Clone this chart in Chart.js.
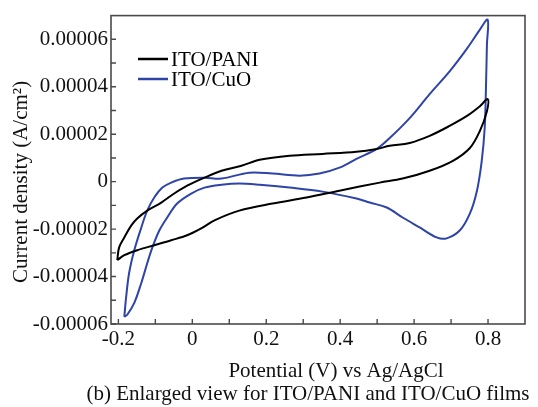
<!DOCTYPE html>
<html>
<head>
<meta charset="utf-8">
<script src="https://cdn.jsdelivr.net/npm/chart.js@4"></script>
<style>
 body { margin:0; background:#fff; }
</style>
</head>
<body>
<canvas id="myChart" width="538" height="407"></canvas>
<script>
var paniV = [-0.203,-0.198,-0.184,-0.165,-0.149,-0.122,-0.084,-0.049,-0.014,0.033,0.079,0.133,0.182,0.263,0.352,0.444,0.499,0.534,0.588,0.642,0.696,0.743,0.778,0.799,
             0.797,0.778,0.751,0.705,0.642,0.569,0.507,0.398,0.309,0.217,0.127,0.060,0.024,-0.014,-0.057,-0.103,-0.149,-0.184,-0.203];
var paniJ = [-3.31e-5,-2.77e-5,-2.35e-5,-1.84e-5,-1.55e-5,-1.22e-5,-0.88e-5,-0.50e-5,-0.17e-5,0.17e-5,0.46e-5,0.67e-5,0.92e-5,1.09e-5,1.17e-5,1.26e-5,1.38e-5,1.51e-5,1.63e-5,1.93e-5,2.35e-5,2.77e-5,3.18e-5,3.48e-5,
             2.97e-5,2.14e-5,1.42e-5,0.88e-5,0.46e-5,0.13e-5,-0.04e-5,-0.38e-5,-0.67e-5,-0.92e-5,-1.22e-5,-1.63e-5,-1.97e-5,-2.26e-5,-2.47e-5,-2.68e-5,-2.89e-5,-3.10e-5,-3.31e-5];

var cuoV = [-0.184,-0.179,-0.171,-0.157,-0.138,-0.122,-0.103,-0.081,-0.057,-0.022,0.033,0.079,0.154,0.217,0.290,0.344,0.398,0.444,0.499,0.534,0.588,0.642,0.696,0.743,0.778,0.799,
            0.797,0.794,0.791,0.783,0.770,0.751,0.724,0.688,0.661,0.615,0.569,0.526,0.480,0.444,0.352,0.263,0.182,0.127,0.079,0.033,-0.003,-0.041,-0.068,-0.089,-0.108,-0.122,-0.138,-0.157,-0.176,-0.184];
var cuoJ = [-5.70e-5,-4.86e-5,-3.85e-5,-2.89e-5,-1.93e-5,-1.22e-5,-0.67e-5,-0.25e-5,-0.04e-5,0.13e-5,0.17e-5,0.13e-5,0.38e-5,0.34e-5,0.25e-5,0.34e-5,0.59e-5,0.96e-5,1.38e-5,1.84e-5,2.68e-5,3.69e-5,4.65e-5,5.61e-5,6.41e-5,6.83e-5,
            5.78e-5,3.69e-5,2.26e-5,0.88e-5,-0.38e-5,-1.34e-5,-2.05e-5,-2.39e-5,-2.35e-5,-1.93e-5,-1.51e-5,-1.09e-5,-0.88e-5,-0.71e-5,-0.42e-5,-0.25e-5,-0.13e-5,-0.08e-5,-0.13e-5,-0.25e-5,-0.50e-5,-0.92e-5,-1.51e-5,-2.05e-5,-2.77e-5,-3.44e-5,-4.27e-5,-5.11e-5,-5.61e-5,-5.70e-5];

var seriesNames = ["ITO/PANI", "ITO/CuO"];
var xTicks = [-0.2, 0, 0.2, 0.4, 0.6, 0.8];
var xMinor = [-0.1, 0.1, 0.3, 0.5, 0.7];
var yTicks = [-0.00006, -0.00004, -0.00002, 0, 0.00002, 0.00004, 0.00006];
var yMinor = [-0.00005, -0.00003, -0.00001, 0.00001, 0.00003, 0.00005];

var FONT = '"Liberation Serif", "Times New Roman", serif';
var colors = ['#000000', '#2e44a6'];

function pairs(xs, ys) {
  var out = [];
  for (var i = 0; i < xs.length; i++) out.push({ x: xs[i], y: ys[i] });
  return out;
}

var decor = {
  id: 'decor',
  afterDraw: function (chart) {
    var ctx = chart.ctx, a = chart.chartArea;
    var xs = chart.scales.x, ys = chart.scales.y;
    ctx.save();
    ctx.strokeStyle = '#4a4a4a';
    ctx.lineWidth = 1.6;
    ctx.strokeRect(a.left, a.top, a.right - a.left, a.bottom - a.top);

    // inward tick marks
    ctx.lineWidth = 1.4;
    ctx.beginPath();
    xTicks.concat(xMinor).forEach(function (v) {
      var px = xs.getPixelForValue(v);
      ctx.moveTo(px, a.bottom); ctx.lineTo(px, a.bottom - 5);
    });
    yTicks.concat(yMinor).forEach(function (v) {
      var py = ys.getPixelForValue(v);
      ctx.moveTo(a.left, py); ctx.lineTo(a.left + 5, py);
    });
    ctx.stroke();

    // legend
    ctx.font = '21px ' + FONT;
    ctx.textBaseline = 'middle';
    ctx.textAlign = 'left';
    for (var i = 0; i < seriesNames.length; i++) {
      var ly = 59 + i * 20;
      ctx.strokeStyle = colors[i];
      ctx.lineWidth = 2.5;
      ctx.beginPath(); ctx.moveTo(138, ly); ctx.lineTo(168, ly); ctx.stroke();
      ctx.fillStyle = '#000';
      ctx.fillText(seriesNames[i], 171, ly + 1);
    }

    // axis titles + caption
    ctx.fillStyle = '#111';
    ctx.textBaseline = 'alphabetic';
    ctx.textAlign = 'center';
    ctx.fillText('Potential (V) vs Ag/AgCl', 336, 377);
    ctx.fillText('(b) Enlarged view for ITO/PANI and ITO/CuO films', 308, 400);
    ctx.translate(27, 182);
    ctx.rotate(-Math.PI / 2);
    ctx.fillText('Current density (A/cm\u00B2)', 0, 0);
    ctx.restore();
  }
};

var ctx = document.getElementById('myChart').getContext('2d');
var chart = new Chart(ctx, {
  type: 'scatter',
  data: {
    datasets: [
      { label: seriesNames[0], data: pairs(paniV, paniJ), borderColor: colors[0], borderWidth: 2, showLine: true, pointRadius: 0, tension: 0.35, fill: false },
      { label: seriesNames[1], data: pairs(cuoV, cuoJ), borderColor: colors[1], borderWidth: 2, showLine: true, pointRadius: 0, tension: 0.35, fill: false }
    ]
  },
  plugins: [decor],
  options: {
    responsive: false,
    animation: false,
    devicePixelRatio: 1,
    layout: { padding: { top: 15, right: 13, left: 0, bottom: 0 } },
    plugins: { legend: { display: false }, tooltip: { enabled: false } },
    scales: {
      x: {
        type: 'linear', min: -0.22, max: 0.9,
        grid: { display: false, drawTicks: false }, border: { display: false },
        afterBuildTicks: function (s) { s.ticks = xTicks.map(function (v) { return { value: v }; }); },
        afterFit: function (s) { s.height = 83; },
        ticks: { padding: 3, color: '#111', font: { family: FONT, size: 21 }, maxRotation: 0,
          callback: function (v) { return v === 0 ? '0' : String(Math.round(v * 10) / 10); } }
      },
      y: {
        type: 'linear', min: -0.00006, max: 0.00007,
        grid: { display: false, drawTicks: false }, border: { display: false },
        afterBuildTicks: function (s) { s.ticks = yTicks.map(function (v) { return { value: v }; }); },
        afterFit: function (s) { s.width = 111; },
        ticks: { padding: 3, color: '#111', font: { family: FONT, size: 21 },
          callback: function (v) { return Math.abs(v) < 1e-12 ? '0' : v.toFixed(5); } }
      }
    }
  }
});
</script>
</body>
</html>
